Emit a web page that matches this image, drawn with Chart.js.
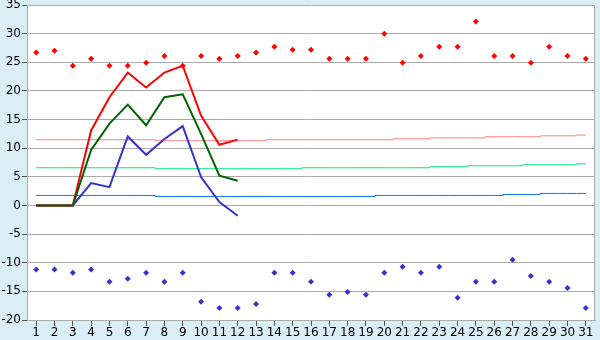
<!DOCTYPE html>
<html>
<head>
<meta charset="utf-8">
<script src="https://cdn.jsdelivr.net/npm/chart.js@4.4.0/dist/chart.umd.min.js"></script>
<style>
    html, body { margin: 0; padding: 0; background: #daeef5; }
    #wrap { width: 600px; height: 340px; }
</style>
</head>
<body>
<div id="wrap"><canvas id="chart" width="600" height="340"></canvas></div>
<script>
const days = ['1','2','3','4','5','6','7','8','9','10','11','12','13','14','15','16',
    '17','18','19','20','21','22','23','24','25','26','27','28','29','30','31'];

// upper and lower markers for each day
const highPoints = [26.7, 27.0, 24.4, 25.6, 24.4, 24.4, 24.9, 26.1, 24.4, 26.1, 25.6, 26.1, 26.7, 27.7, 27.2, 27.2,
    25.6, 25.6, 25.6, 30.0, 24.9, 26.1, 27.7, 27.7, 32.1, 26.1, 26.1, 24.9, 27.7, 26.1, 25.6];
const lowPoints = [-11.2, -11.2, -11.75, -11.2, -13.3, -12.8, -11.75, -13.3, -11.75, -16.8, -17.9, -17.9, -17.2, -11.75, -11.75, -13.3,
    -15.6, -15.1, -15.6, -11.75, -10.7, -11.75, -10.7, -16.1, -13.3, -13.3, -9.5, -12.3, -13.3, -14.4, -17.9];

// the three lines of the first twelve days
const redLine = [0, 0, 0, 13.1, 18.9, 23.2, 20.6, 23.2, 24.4, 15.7, 10.6, 11.5];
const greenLine = [0, 0, 0, 9.7, 14.3, 17.6, 14.0, 18.9, 19.4, 12.5, 5.2, 4.3];
const blueLine = [0, 0, 0, 3.9, 3.2, 12.05, 8.85, 11.6, 13.85, 4.95, 0.6, -1.8];

// thin trend lines
const pinkTrend = [11.47, 11.47, 11.47, 11.47, 11.47, 11.47, 11.47, 11.3, 11.3, 11.3, 11.3, 11.3, 11.3, 11.47, 11.47, 11.47,
    11.47, 11.47, 11.47, 11.47, 11.64, 11.64, 11.8, 11.8, 11.8, 12.0, 12.0, 12.0, 12.16, 12.16, 12.3];
const mintTrend = [6.58, 6.58, 6.58, 6.58, 6.58, 6.58, 6.58, 6.41, 6.41, 6.41, 6.41, 6.41, 6.41, 6.41, 6.41, 6.58,
    6.58, 6.58, 6.58, 6.58, 6.58, 6.58, 6.76, 6.76, 6.93, 6.93, 6.93, 7.1, 7.1, 7.1, 7.28];
const skyTrend = [1.75, 1.75, 1.75, 1.75, 1.75, 1.75, 1.75, 1.57, 1.57, 1.57, 1.57, 1.57, 1.57, 1.57, 1.57, 1.57,
    1.57, 1.57, 1.57, 1.75, 1.75, 1.75, 1.75, 1.75, 1.75, 1.75, 1.92, 1.92, 2.1, 2.1, 2.1];

const gridGray = '#aaaaaa';

const frame = {
    id: 'frame',
    beforeDraw(chart) {
        const ctx = chart.ctx;
        const a = chart.chartArea;
        ctx.save();
        ctx.fillStyle = '#daeef5';
        ctx.fillRect(0, 0, chart.width, chart.height);
        ctx.fillStyle = '#ffffff';
        ctx.fillRect(a.left, a.top, a.right - a.left, a.bottom - a.top);
        ctx.restore();
    },
    afterDatasetsDraw(chart) {
        const ctx = chart.ctx;
        const a = chart.chartArea;
        ctx.save();
        ctx.strokeStyle = gridGray;
        ctx.lineWidth = 1;
        ctx.beginPath();
        ctx.moveTo(Math.round(a.right) - 0.5, a.top);
        ctx.lineTo(Math.round(a.right) - 0.5, a.bottom);
        ctx.stroke();
        ctx.restore();
    }
};

function trend(data, color) {
    return {
        data: data,
        borderColor: color,
        borderWidth: 1,
        pointRadius: 0,
        stepped: 'middle',
        fill: false,
        order: 6
    };
}

// lower order is painted later, so it sits on top
function bigLine(data, color, order) {
    return {
        data: data,
        borderColor: color,
        borderWidth: 2,
        pointRadius: 0,
        tension: 0,
        fill: false,
        order: order
    };
}

function markers(data, color) {
    return {
        data: data,
        showLine: false,
        pointStyle: 'rectRot',
        pointRadius: 3,
        pointBackgroundColor: color,
        pointBorderColor: color,
        pointBorderWidth: 0,
        order: 1
    };
}

Chart.defaults.font.family = 'DejaVu Sans';
Chart.defaults.font.size = 12;
Chart.defaults.color = '#000000';

new Chart(document.getElementById('chart').getContext('2d'), {
    type: 'line',
    data: {
        labels: days,
        datasets: [
            markers(highPoints, '#ff0000'),
            markers(lowPoints, '#3434cc'),
            bigLine(redLine, '#ff0000', 4),
            bigLine(greenLine, '#006400', 2),
            bigLine(blueLine, '#3434cc', 5),
            trend(pinkTrend, '#ff8080'),
            trend(mintTrend, '#00e87a'),
            trend(skyTrend, '#0a78e0')
        ]
    },
    options: {
        responsive: false,
        animation: false,
        layout: { padding: { top: 5, right: 5, left: 0, bottom: 0 } },
        plugins: {
            legend: { display: false },
            tooltip: { enabled: false }
        },
        scales: {
            x: {
                offset: true,
                grid: {
                    offset: false,
                    drawOnChartArea: false,
                    drawTicks: true,
                    tickLength: 6,
                    color: '#555555'
                },
                border: { display: true, color: gridGray },
                ticks: { padding: 0, maxRotation: 0, autoSkip: false },
                afterFit(scale) {
                    scale.height = 20;
                    scale.paddingLeft = 0;
                    scale.paddingRight = 0;
                }
            },
            y: {
                min: -20,
                max: 35,
                grid: {
                    color: gridGray,
                    drawTicks: true,
                    tickLength: 5,
                    tickColor: '#555555'
                },
                border: { display: true, color: gridGray },
                ticks: { stepSize: 5, padding: 1 },
                afterFit(scale) {
                    scale.width = 27;
                    scale.paddingTop = 0;
                    scale.paddingBottom = 0;
                }
            }
        }
    },
    plugins: [frame]
});
</script>
</body>
</html>
